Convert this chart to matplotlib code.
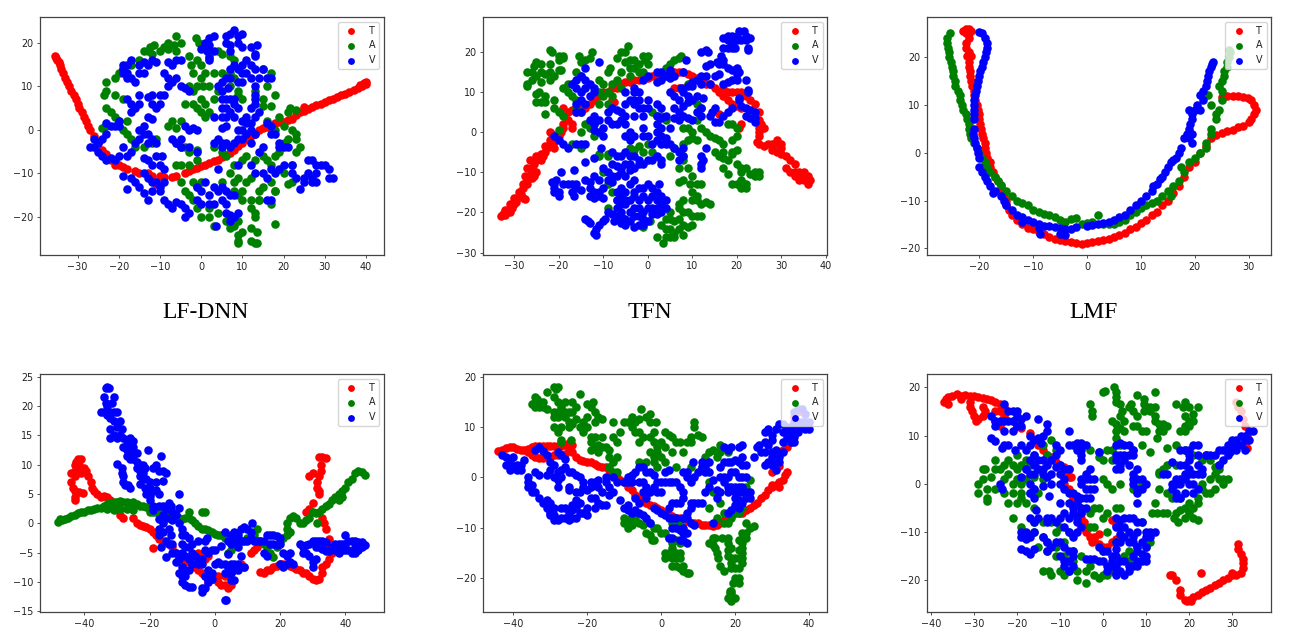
import matplotlib
matplotlib.use("Agg")
import matplotlib.pyplot as plt
import numpy as np

# points, (x, y)
t1 = [(-35.5,17),(-35.2,16.5),(-35,16),(-34.6,15.5),(-34.3,14.8),(-34,14),(-33.5,13),(-33,12),(-32.7,11),(-32.2,10),(-31.5,9),(-31,8),(-30.5,7),(-30,6),(-29.6,5),(-29,4),(-28.5,3),(-28,2),(-27.5,1),(-27,0),(-26,-1.5),(-25,-3),(-24,-4.5),(-23,-5.5),(-22,-7),(-21,-8),(-20,-8),(-19,-8.5),(-18,-9),(-16,-9.5),(-15,-9.8),(-13,-10),(-12,-10.5),(-11,-12.5),(-10,-10.5),(-9,-10.7),(-7,-10.7),(-6,-10.5),(-4,-10),(-3,-9.5),(-2,-9),(-1,-8.7),(0,-8.3),(1,-8),(2,-7.6),(3,-7.2),(4,-6.8),(5,-6.3),(6,-5.8),(7,-5.3),(8,-4.5),(9,-3.8),(10,-3),(11,-2),(12,-1.5),(13,-1),(14,0),(15,0.5),(16,0.7),(17,1),(18,1.5),(19,1.7),(20,1.8),(21,2.2),(22,2.5),(23,3.5),(24,4),(25,4.3),(25,5.3),(26,4.7),(27,5.2),(28,5.7),(29,6),(30,6.5),(31,6.8),(32,7),(33,7.5),(34,8),(35,8.3),(36,8.8),(37,9.2),(38,9.7),(39,10),(40,10.5),(39.5,10.8),(38.5,10.4),(40,11)]
a1 = [(-6,21.5),(-1.3,21),(-0.5,20),(1,19),(-8,20),(-6.5,19.5),(-5,20),(-9,19),(-12.5,19),(-11.5,19.5),(-10,18),(-13,18),(-14,18),(-12,17.5),(-8,18.5),(-6,18),(-3,17),(-1,16),(0,15),(2,17),(4,18),(5,17.5),(7,17),(8,16),(-2.5,15),(-2,13),(0,12),(1,13),(3,13),(5,13),(7,13),(8,12),(-3,10),(-2,9),(-1,10),(0.5,10),(2,10),(4,9),(7,10),(9,9),(-4,6),(-2,6),(0,7),(1,6),(-1,5),(0,4),(1,3),(2,4),(3,7),(9,8),(10,7),(13,9),(15,7),(15,5.5),(17,5.5),(18,8),(16,10),(17,13),(15,14),(-15,16),(-17,15),(-19,14),(-20,13),(-21,12),(-23,11),(-23,9),(-23.5,8),(-21,8),(-19,7),(-23,5),(-22,4),(-21,3),(-20,2),(-23,1),(-24,0.5),(-18,2),(-19,0),(-18,-1),(-17,-2),(-16,-4),(-14,-4),(-12,-3),(-11,-2),(-8,1),(-7,2),(-6,0.5),(-5,2),(-6,-3),(-5,-4),(-4,-4),(-3,-5),(-1,-4.5),(3,-4),(5,-5),(6,-6),(-6,-8),(-5,-8),(-3,-8),(-1,-7),(8,-8),(10,-7),(11,-6),(13,-7),(15,-6),(16,-7),(17,-8),(18,-6),(19,-5),(20,-3),(21,-2),(23,-2),(24,-4),(23,-5),(22,-8),(20,-10),(22,-12),(21,-12.5),(17,-12),(18,-14),(15,-13),(14,-14),(14,-16),(12,-11),(11,-12),(9,-11),(8,-12),(7,-10),(5,-12),(-5,-12),(-4,-14),(-3,-15),(-2,-12),(-1,-13),(0,-12),(-2,-16),(-1,-18),(0,-20),(2,-20),(2,-18),(4,-19),(8,-14),(9,-15),(10,-14),(10,-16),(12,-16),(14,-16),(12,-18),(13,-19),(13,-20),(6,-21),(7,-21.5),(8,-22),(9,-21),(7,-22.5),(3,-22),(9,-24),(10,-23.5),(12,-22.5),(13.5,-23.5),(9,-25.5),(9,-26),(12,-25.5),(13,-26),(13.5,-26),(18,-21.5),(17,-17),(18,-14),(18,0),(20,1),(21,4),(21.5,5),(23,4.5),(22,0),(23,-1),(19,3),(16,2)]
v1 = [(8,23),(7,22),(9,21.5),(10,22),(6,21.5),(3,21.5),(2,21),(6,20),(7,19.5),(9,20),(10,19),(12,19),(13.5,19.5),(1,20),(2,19.5),(0,18.5),(1.5,18),(3,18),(7,18),(13,17),(13,17.5),(2,16.5),(2,16),(-5,16),(-6,16),(-7,15),(-8,15.5),(-12,16),(-11,15.5),(-13,15),(-14,15.5),(-15,15),(-17,16),(-18,15),(-19,15),(-19,14),(-18,13),(-15,13),(-14,13),(-19,13),(-18,12),(-17,12),(-16,11),(-9,13),(-8,12),(-7,11),(-8,10),(-6,12),(-5,10),(-4,9.5),(-3,9),(7,14),(8,15),(9,14),(10,15),(11,16),(12,15),(13,14),(10,13),(11,13),(12,12),(14,12),(15,14),(16,12),(17,12),(7,12),(6,12),(5,11),(9,11),(10,11),(13,10),(4,10),(6.5,9.5),(13,8),(5,9),(5,7),(6,7),(7,7),(8,7),(8,6),(9,5),(5,5),(6,5),(7,4),(3,3),(5,3),(6,3),(8,3),(13,7),(13,6),(12,5),(11,3),(13,3),(14,4),(10,2),(11,1.5),(12,1.5),(5,0.5),(6,1),(9,0),(10,0),(11,-1),(12,0),(13,-1),(3,-3),(4,-2),(5,-3),(6,-3),(7,-4),(5,-4),(8,-3),(9,-2),(10,-2),(12,-3),(14,-5),(15,-4),(16,1.5),(17,1),(17,-1),(18,-1),(19,-3),(19,-4),(20,-4),(21,-4),(-20,1),(-21,1),(-22,1),(-23,1.5),(-20,2),(-17,4),(-16,5),(-15,6),(-17,6),(-18,7),(-15,8),(-13,7.5),(-12,8),(-10,8),(-9,8),(-12,6),(-11,5),(-10,6),(-13,3),(-12,2.5),(-14,1),(-15,0),(-14,-1),(-13,-1),(-12,-2),(-15,-2),(-13,-3),(-11,-3),(-7,-2),(-6,-3),(-5,-2),(-4,1),(-3,0),(-2,0.5),(-1,0),(-5,-4),(-3,-4),(-1,-5),(-26,-2),(-27,-4),(-26,-4),(-25,-5),(-25,-3),(-24,-2),(-23,-1),(-24,-6),(-23,-7),(-22,-6.5),(-21,-7),(-20,-6),(-18,-6),(-19,-4),(-17,-5),(-16,-3),(-14,-6.5),(-13,-7),(-11,-6),(-9.5,-6),(-12,-8),(-10,-8),(-9,-9),(-19,-10.5),(-17,-11),(-16,-12),(-15,-13),(-18,-13.5),(-14,-10),(-13,-11),(-12,-12),(-11,-12),(-10,-13),(-9,-12),(-12,-14),(-10,-14),(-14,-14.5),(-13,-16),(-9,-16),(-8,-17),(-7,-18),(-6,-16.5),(-5,-17),(-4,-18),(-3,-19),(-4,-20),(-1,-13),(0,-14),(1,-12),(2,-15),(3,-13),(4,-14),(5,-13),(6,-14),(7,-15),(-1,-16),(0,-17),(2,-17),(3,-17),(5,-16),(6,-17),(8,-15),(6,-19),(7,-19.5),(8,-20),(9,-19),(7,-21),(3.5,-22),(9,-8),(4,-9),(12,-8),(13,-10),(15,-10),(16,-11),(17,-9),(19,-9),(20,-8),(22,-8),(18,-10),(22,-10),(23,-11),(25,-11),(25,-12),(24,-13.5),(26,-7),(27,-7),(28,-8),(29,-8),(30,-8),(31,-9),(28,-10),(27,-11),(26,-10),(27,-12),(28,-12),(31,-11),(32,-11),(16,-16),(17,-16)]

t2 = [(-33,-21),(-32.5,-20.5),(-32,-20.7),(-31.5,-20),(-31,-20),(-32,-19.5),(-31,-19),(-30.5,-19),(-31,-18),(-30,-18),(-29.5,-17.5),(-30,-16.5),(-29,-16),(-28.5,-15.5),(-28,-16.5),(-27.5,-16.7),(-29,-15),(-28,-14),(-28,-13),(-27,-13),(-27,-12),(-26.5,-11),(-26,-11.5),(-27.5,-11),(-25.5,-11),(-26,-10),(-25,-10),(-27,-9),(-26,-9),(-25.5,-8),(-26.5,-7),(-25,-7),(-25,-6),(-24,-7),(-24,-5.5),(-23,-5),(-23.5,-6),(-22.5,-4),(-23,-3.5),(-22,-3),(-22,-2),(-21,-4),(-21,-2.5),(-20.5,-1),(-22,0),(-21.5,-0.5),(-20,-1),(-19.5,0),(-19,1),(-19,2),(-18,3),(-17,2),(-17,1),(-19,6),(-18,5),(-17,5.5),(-16,5),(-15,6),(-14.5,7),(-14,6),(-13,7),(-12,8),(-11,9),(-10,10),(-9,10),(-8,11),(-8,8),(-7.5,7.5),(-7,11),(-6,12),(-5,12.5),(-4,12.5),(-3,13),(-2,13),(-1,13.5),(0,13.5),(1,14),(2,14),(3,14.5),(4,15),(5,15),(6,15),(7,15),(8,15),(9,14.5),(10,14),(11,13.5),(12,13),(13,12),(14,12),(15,11),(16,10),(17,11),(18,10),(19,10),(20,10),(21,10),(22,9),(23,8),(24,7),(17,9),(18,8),(19,7),(20,6.5),(21,6),(16,4.5),(21,2),(20.5,1),(6,11),(7,11),(8,11),(25,5),(25,3),(25.5,2),(25,1),(26,1),(25,0),(25,-1),(24.5,-2.5),(25,-3),(26,-3.5),(27,-3),(28,-3),(28,-4.5),(29,-3),(29,-2),(30,-3),(30,-4),(29,-5),(30,-5.5),(31,-6),(32,-7),(33,-8),(31,-9),(32,-10),(33,-10),(33,-11),(34,-10),(34,-12),(35,-10),(35,-11),(36,-11),(35,-12),(36,-13),(36.5,-12)]
a2 = [(-22,20.5),(-21.5,20),(-20,19),(-19,18.5),(-20,18),(-19,19),(-25,17.5),(-25.5,16.5),(-24,17),(-22,17),(-27,15),(-26,15),(-25,14),(-24,15),(-23,14.5),(-22,15),(-20,15.5),(-19.5,15.5),(-21,14),(-22,13),(-24,12.5),(-26,13),(-27,12),(-27,11.5),(-24.5,10),(-25,9.5),(-23,9),(-21,8),(-25,7.5),(-24,7.5),(-23,7.5),(-23,4.5),(-21,6),(-20,5),(-19,4),(-19,11),(-18,12),(-17,12),(-18,10),(-17,9),(-16,8),(-16,6),(-15,5),(-20,0.5),(-15,17.5),(-14,18),(-15.5,19),(-13,18.5),(-12.5,20),(-15,14),(-16,15),(-7,18.5),(-6,20),(-5,20),(-4.5,21.5),(-5,17.5),(-4,18),(-3,18),(-4,16),(-3,16),(-2,17),(-2,15),(-1,15),(-4,14),(-6,15),(-8.5,16),(-9,15),(-7,13),(-8,12),(-11,13),(-10,12),(-11,10),(-10,9),(-9,10),(-8,9),(-6,11),(-11,7),(-9,7),(-14,2),(-13,1),(-15,0),(-12,2),(-12,-1),(-17,-3),(-15,-4),(-11,-6),(-9,-6),(-10,-10),(-9,-13),(-8,-15),(-7,-17),(-9,-19),(0,17),(-0.5,18),(-1,19),(0,19),(5,17),(6,18),(7,18.5),(7.5,19),(4,16),(9,12),(11,7),(12,6),(11,3),(12,1),(13,0),(14,-1),(15,-1.5),(16,-2),(17,-3),(17,-5),(19,-5),(15,-5),(16,-6),(17,-6.5),(18,-7),(17,-9),(18,-10.5),(19,-5.5),(20,-8),(21,-9),(22,-9),(21,-10),(23,-10.5),(24,-10),(25,-10),(25,-11),(24,-11),(20,-13),(19,-13),(21,-12),(22,-13),(21,-14),(22,-14),(8,-7),(9,-9),(10,-11),(8,-12),(7,-12.5),(9.5,-13),(11,-13),(12,-13),(10,-15),(11,-16),(10,-17),(11,-17),(12,-18),(13,-17.5),(14,-18),(8,-17),(7,-18),(8,-20),(9,-20),(10,-21),(11,-21),(12,-21),(7,-21.5),(6,-22),(5,-21.5),(4,-21.5),(3,-23),(4,-24),(5,-24),(6,-25),(7,-24),(8,-23),(9,-23.5),(10,-23),(4,-26),(5,-26),(6,-26),(2,-26),(3.5,-27.5),(8,-25.5),(-1,-23.5),(0.5,-22),(5,-20),(7,-19),(5,-6),(6,-4),(8,-3),(9,-2),(10,-1.5),(11,-2),(8,-6),(7,-9),(-4,-4),(-3,-4.5),(-2,-3.5),(-1,-5),(0,-3),(1,-5),(-9,-5.5),(-11,-5.5),(1,5),(2,4),(3,4),(4,3),(8,1),(9,1),(10,0),(18,2),(19,2),(20,1),(20,-1),(19,-2),(20,-4.5)]
v2 = [(21.5,25),(22,24),(20.5,25),(20,24),(19,24),(18,24),(17,23.5),(18,23),(19,22),(20,23),(21,23),(22,23),(23,23.5),(18,21),(17,21),(19,21),(19.5,21),(22.5,21),(22.5,20.5),(16.5,19),(17,18),(12,20),(13,20.5),(13.5,20),(15.5,17.5),(16,17),(17,17),(18,16),(19,15.5),(13,16.5),(14,17),(20,16),(20.5,15),(20,14.5),(19,13),(20,13),(22,13),(16,14.5),(15,14),(13,14),(12,14),(11,13),(10,12.5),(12,12),(14,12),(17,12),(18,12.5),(10,11.5),(22.5,10.5),(22.5,10),(20.5,8),(20.5,8.5),(21,6.5),(22,6),(23,5.5),(24,5),(24,3.5),(24,2.5),(23,3.5),(22,4),(19,6),(18,5),(17,4),(15,6),(14.5,5),(14,4),(15,2.5),(16,2.5),(12,6),(12,4),(11,5),(10,3),(9,3.5),(8,4),(7,5),(6,6),(8,6.5),(6,3.5),(7,3),(5,1),(4,4),(3,3.5),(2,4),(9,9),(8,10),(7,8),(9,7.5),(10,8),(11,9),(12.5,8.5),(7.5,11),(9,11.5),(5,10),(6,9),(0,14),(-1,13),(2,15),(3,15),(4,14),(5,15.5),(6,14),(5,13.5),(3,13),(2,12.5),(8,15),(8.5,18),(-11,17.5),(-14,16),(-15,14),(-14,13),(-13,12),(-16,13),(-17,12),(-16,11),(-15,10),(-14,11),(-12,11),(-12,10),(-13,9),(-15,8),(-14,7),(-16,7),(-16,5),(-15,5),(-3,11),(-2,10),(-3,10),(-5,10),(-3,8),(-2,8),(0,8),(-3,7),(-4,8),(-5,7),(-2,6),(-1,6),(0,6),(-8,6),(-7,5.5),(-9,5),(-6,5),(-5,4),(-3,4),(-1,4),(2,7),(3,6),(-9,3),(-11,3),(-12,4),(-13,3),(-12,2),(-6,3),(-5,2),(-7,2),(-8,2),(-10,1),(-11,0),(-12,0.5),(-10,-1),(-4,0),(-5,-1),(-4,-2),(-3,-1),(-1,1),(-1,-1),(0,-1),(2,2),(2,0),(3,1),(3,-1),(4,-1.5),(2,-2),(3,-3),(4,-3),(5,-3),(1,-3),(-15,-3),(-16,-3),(-14,-3),(-21,-1),(-20,-2),(-19,-3),(-18,-4),(-10.5,-4),(-12,-6.5),(-14,-7.5),(-8,-5),(-7,-6),(-6,-6),(-5,-5),(-4,-6),(-3,-6),(-2,-7),(-1,-8),(0,-7),(1,-7),(2,-6),(3,-7),(3,-8),(-8,-8),(-7,-8.5),(-6,-9),(-5,-8),(-4,-8),(-3,-9),(-2,-8),(-10,-9),(-9,-10),(-8,-11),(-7,-11),(-6,-10),(-5,-11),(-4,-9.5),(-9,-12),(-8,-12.5),(6,-4),(7,-5),(8,-4),(8,-6),(7,-7),(12,-6),(12.5,-7),(12,-8),(12,-9),(13,-4),(-19.5,-10),(-16.5,-9.5),(-12,-11),(-11,-12),(-21.5,-12.5),(-21,-13),(-20.5,-12),(-19,-13),(-18,-13),(-17,-13),(-16,-13),(-16,-14),(-17,-15),(-15,-14.5),(-14,-12),(-13,-12.5),(-13,-14),(-12,-15),(-11,-15),(-10,-14),(-21,-14),(-20,-15),(-20,-16),(-21,-15),(-16.5,-16),(-13,-16),(-12,-16.5),(-11,-16),(-10,-16.5),(-3,-12),(-2,-14),(-1,-14),(0,-13),(1,-14),(2,-15),(2.5,-13),(-6,-14),(-5,-15),(-4,-13),(-3,-15),(-7,-15),(-7,-17),(-6,-16),(-6,-18),(-5,-17),(-4,-17),(-3,-16),(-2,-17),(-1,-16),(0,-17),(1,-16),(2,-17),(3,-16),(3,-18),(4,-17),(4,-19),(-7,-19),(-6,-20),(-5,-18),(-4,-20),(-3,-19),(-2,-19),(-1,-20),(0,-19),(1,-19),(2,-19),(3,-20),(-9,-20),(-8,-20.5),(-7,-21),(-6,-21),(-5,-21.5),(-4,-22),(-3,-21),(-2,-21),(-1,-21.5),(-7.5,-22),(-6,-22.5),(-5,-23),(-3,-23.5),(-2,-23),(-1,-23),(-14,-21.5),(-13.5,-22),(-13,-22.5),(-12,-25),(-11.5,-24),(-11,-23),(-10,-22),(-9.5,-21.5),(-11.7,-25.5),(0,-22),(1,-20.5),(2,-20.5)]

t3 = [(-23,25.5),(-22.5,25.8),(-22,25.8),(-21.5,25.5),(-22.5,25),(-22,25),(-22,24),(-22.5,23),(-22.5,22),(-22,21),(-22.3,20.3),(-21.5,20.3),(-22,19),(-22,18),(-21.8,17),(-21.7,16),(-21.5,15),(-21.3,14),(-21,13),(-21,12),(-20.8,11),(-20.5,10),(-20.3,9),(-20,8),(-20,7),(-19.8,6),(-19.7,5),(-19.5,4),(-19.3,3),(-19,2),(-19,1),(-18.8,0),(-18.5,-1),(-18,-2),(-18,-3),(-17.5,-4),(-17,-5),(-16.5,-6),(-16,-7),(-16,-8),(-15.5,-9),(-15,-10),(-15,-11),(-14.5,-12),(-14,-13),(-13,-14),(-12,-15),(-11,-15.7),(-10,-16),(-9,-16.5),(-8,-17),(-7,-17.7),(-6,-18),(-5,-18.3),(-4,-18.5),(-3,-18.7),(-2,-18.8),(-1,-19),(0,-18.8),(1,-18.7),(2,-18.5),(3,-18.3),(4,-18),(5,-17.7),(6,-17.2),(7,-16.8),(8,-16),(9,-15.5),(10,-14.8),(11,-14),(12,-13),(13,-12.5),(14,-11),(15,-10),(16,-8.5),(17,-7),(18,-5),(19,-3),(20,-2),(21,0),(22,1.5),(23,3),(24,3.8),(25,4.2),(26,4.5),(27,4.8),(28,5.3),(29,5.6),(30,6.5),(30.5,7),(31,8),(31.3,9),(31,10),(30.5,11),(29.8,11.5),(29,11.7),(28,11.8),(27,11.8),(26,11.8),(25,11.7)]
a3 = [(-25.5,25),(-26,24),(-26,23),(-25.8,22),(-25.7,21),(-25.7,20),(-25.3,19),(-25,18),(-24.8,17),(-24.8,16),(-24.5,15),(-24.5,14),(-24,13),(-23.5,12),(-23.5,11),(-23.2,10),(-23,9),(-22.5,8),(-22.3,7),(-22,6),(-22,5),(-21.7,4),(-21.5,3),(-21,2),(-20.5,1),(-20,0),(-19.5,-1),(-19,-2),(-18.5,-3),(-18,-4),(-17,-5),(-16.5,-6),(-16,-6.8),(-15,-8),(-14,-9),(-13,-10),(-12,-10.5),(-11,-11),(-10,-12),(-9,-12.5),(-8,-12.8),(-7,-13),(-6,-13.5),(-5,-14),(-4,-14.5),(-3,-13.8),(-2,-13.7),(-1,-15),(0,-14.8),(1,-14.5),(2,-13),(3,-15),(4,-15),(5,-15),(6,-14.5),(7,-14),(8,-13),(9,-12.5),(10,-11.5),(11,-11),(12,-10.5),(13,-10),(14,-9),(15,-8),(15.5,-9),(16,-7),(17,-6),(17.5,-3),(18,-4),(19,-2),(20,-1),(21,0),(22,1),(22,2),(23,4),(23,5),(24,7),(24,8),(24.5,9),(23,10),(22.5,12),(25,11),(25,13),(24.5,14),(25,15),(25.5,16),(25.5,17),(26,18),(26,19),(26.3,20),(26.5,21),(26.3,21.5)]
v3 = [(-20,25.3),(-19.5,25),(-19,24),(-18.5,23),(-18.5,22),(-18.8,21),(-19,20),(-19.3,19),(-19.5,18),(-19.8,17),(-20,16),(-20.2,15),(-20.5,14),(-20.7,13),(-20.8,12),(-21,11),(-21,10),(-21,9),(-21,8),(-21,7),(-21,5),(-21.2,4),(-21,3),(-20.8,2),(-20.5,1),(-20.3,0),(-20,-1),(-20,-3),(-19.5,-4),(-19,-5),(-18.5,-6),(-18,-7),(-17.5,-8.5),(-17,-8),(-16,-9),(-15.5,-10),(-15,-11),(-14,-12),(-13,-13),(-12,-13.5),(-12,-14.5),(-11,-14),(-10,-14.5),(-9,-15),(-8,-15.3),(-7,-15.3),(-6,-15.5),(-5,-15.8),(-4,-16),(-3,-16),(-2,-15.5),(-9,-15.7),(-8.7,-17),(-5,-17),(-4,-17.2),(0,-15.3),(1,-15.2),(2,-15),(3,-14.8),(4,-14.5),(5,-14),(6,-13.5),(7,-13),(8,-12),(9,-11),(10,-10),(11,-9),(12,-8),(12.3,-7),(13,-6.5),(13.5,-5.5),(14,-5),(14.5,-4),(15,-3),(15.5,-2),(16,-1.5),(16.5,-1),(17,0),(17.5,1),(18,3),(18.5,4),(19,5),(19.5,4),(19,3),(19.5,2),(19.2,6),(19.5,7),(19.5,8),(19,9),(20,9),(20.5,10),(21,9),(21.5,11),(21,12),(21.5,13),(22,14),(22.2,15),(22.5,16),(22.7,17),(23,18),(23.2,18.5),(23.4,19)]

t4 = [(-42,11),(-42.5,10.5),(-43,10),(-41,11),(-41.5,10),(-43,9),(-44,8.5),(-43,8),(-42,9),(-41,8.5),(-40,9.5),(-39.5,9),(-39,8),(-38,7),(-37.5,6),(-37,5.5),(-36,5),(-35,4.5),(-34,4.7),(-33,4.5),(-32,4),(-44,7),(-43.5,6),(-43,5.5),(-43,4.5),(-43,4),(-41.5,5.3),(-40.5,5.2),(-31,3),(-30,2.5),(-29,1.5),(-28,1),(-25,1),(-24,0),(-23,-0.3),(-22,-0.5),(-21,-0.7),(-20,-1),(-19,-1.5),(-18,-2),(-17,-2.7),(-16,-3),(-15,-3.2),(-14,-3.5),(-13,-4),(-12,-5),(-11,-5.5),(-10,-6),(-9,-6.5),(-8,-6.5),(-7,-7),(-6,-7.5),(-5,-8),(-4,-8.5),(-3,-9),(-2,-10),(-1,-9.5),(0,-9.5),(1,-10),(2,-10.5),(3,-10.5),(4,-11),(5,-10.5),(1,-9),(3,-9),(-19,-4.2),(-5,-5),(-4,-5.5),(-3,-6),(-2,-5.5),(8,-7),(9,-7.5),(11,-5),(12,-4.5),(13,-4),(14,-8.3),(15,-8.5),(16,-8),(17,-8),(18,-7.5),(19,-7.2),(20,-7),(21,-7),(22,-7),(23,-7.2),(24,-7.5),(25,-7.7),(26,-8),(27,-8.5),(28,-8.5),(29,-9),(30,-9.5),(31,-9.7),(32,-9.5),(33,-8.5),(33,-7.5),(34,-7),(35,-6),(36,-5),(35,-4),(35,-2.7),(34,-1),(33.5,0),(33,1),(32,11.3),(33,11.3),(34,11.2),(32.5,10),(32.5,9),(32,8),(31.5,7),(31.5,6),(32,5.5),(32,5),(29,8),(30,8.5),(30,3.5),(29,2.5),(28,2)]
a4 = [(-48,0.3),(-47.5,0.7),(-47,0.6),(-46,0.8),(-45,1),(-44,1.2),(-43,1.4),(-42,1.7),(-41,1.9),(-40,2),(-39,2.2),(-38,2.3),(-37,2.5),(-36,2.7),(-35,2.7),(-34,3),(-33,3.3),(-32,3.5),(-31,3.6),(-30,3.7),(-29,3.8),(-28,3.7),(-27,3.7),(-26,3.5),(-25,3.6),(-24,3.3),(-33,2.5),(-31,2.3),(-29,2.5),(-27,2.5),(-25,2.3),(-23,3),(-22,3),(-21,2.8),(-20,2),(-19,2),(-18,2),(-17,2),(-16,2.5),(-15,1.5),(-14,1),(-13,1),(-12,1.5),(-11,1),(-10,0.7),(-9,1),(-8,2),(-8,1),(-4,2),(-3,2),(-7,0.5),(-6,0),(-5,-0.5),(-4,-1),(-3,-1),(-2,-1.2),(-1,-1.5),(0,-1.8),(1,-2),(2,-2),(3,-2.5),(4,-5),(5,-4.5),(6,-3.5),(8,-3),(10,-2.5),(12,-2),(13,-1),(14,-3),(15,-3.5),(16,-4),(17,-5),(18,-5.7),(19,-4),(20,-3),(21,-2.5),(22,-2),(23,-1.5),(22,-1),(22,0),(23,1),(24,1.3),(25,1),(26,0),(27,0),(28,0.5),(29,1),(31.5,0),(30,2),(31,1.7),(32,2),(33,2.5),(34,3),(35,3.3),(36,4),(37,4.5),(38,5),(39,5.5),(39,4.5),(40,6),(41,7),(42,7.5),(43,8.5),(44,9),(45,8.8),(46,8.3),(38,4)]
v4 = [(-33.5,23),(-33,23.2),(-32.5,23),(-34,21.5),(-33.5,20.5),(-31,21.5),(-31.5,20.5),(-33,20),(-35,19),(-34,19),(-33,18.5),(-32,19),(-31,19),(-30,19),(-32,18),(-31,17.5),(-30,16.5),(-29,17.5),(-28.5,16),(-32,16),(-31,15),(-32,14.5),(-30,14.5),(-29,15),(-28,14.5),(-27,14),(-26,14.5),(-25,14),(-28,13),(-27,12.5),(-26,13),(-25,13),(-24,12),(-27,11.5),(-26,11),(-25,12),(-25,11),(-20.5,12.5),(-16.5,11.5),(-30,10.2),(-28.5,9.5),(-28.5,8.5),(-28,8),(-28,7),(-27.5,6.5),(-26.5,6.5),(-26,6),(-24,10.5),(-23,10),(-22,10),(-21.5,9.5),(-24,9.5),(-23,9),(-22,8.5),(-19,9.5),(-18,10),(-17,9),(-16,9),(-15,8.5),(-23,8),(-22,7.5),(-21,7.5),(-23,6.7),(-21.5,6),(-20,7),(-18,7),(-16,7.2),(-20,6),(-19,5.5),(-18,5.7),(-21,5),(-20,4.7),(-17,5),(-20,4),(-11,5),(-19,3),(-19,2.3),(-17,3),(-16,3),(-15,2.5),(-14,3.5),(-13.5,3),(-13,2),(-11,2.7),(-12,1.5),(-16,1.5),(-17,0.8),(-16,0),(-15,1),(-13,0.5),(-11,0),(-17,-1),(-16,-1.5),(-14,-1),(-13.5,-2),(-17,-2),(-15,-3),(-14,-3.5),(-13,-3.5),(-16.5,-4),(-15,-5.7),(-13,-5),(-12,-5),(-11,-6),(-12,-6.5),(-10,-1),(-10,-2),(-9,-2),(-8,-2.5),(-7,-3.5),(-10,-3.5),(-9,-4),(-8,-4),(-5,-3),(-3,-3),(-2.5,-2.5),(-10,-5),(-9,-5.5),(-8,-6),(-7,-5),(-6,-5.5),(-5,-6),(-4,-6),(-3,-4.5),(-2,-5),(-1,-4.5),(0,-4.5),(-7,-7),(-5,-7),(-4,-7),(-10,-7.5),(-9,-8),(-8,-8),(-11,-8.5),(-10,-9),(-9,-9),(-10,-10),(-9,-10.5),(-8,-10.8),(-7,-10.8),(-4,-11),(-4,-11.7),(-3,-11),(-3,-9),(-2,-9.5),(-2,-8),(-1,-8.5),(-1,-9.5),(-2,-10),(0,-7),(1,-6.5),(2,-7),(3,-7),(4,-7.5),(5,-7),(6,-7),(7,-7),(3,-8.5),(4,-8.5),(5,-8.5),(6,-8),(7,-8),(5,-9.7),(6,-9.7),(3,-13),(3.5,-13),(2,-3.8),(3,-1.5),(4,-3),(4,-5.2),(5,-2),(6,-1.5),(7,-2),(8,-1),(9,-0.7),(10,-1),(11,-1.5),(11.5,0),(5,-3.5),(6,-3),(7,-4),(8,-5.5),(8,-3),(9,-3),(10,-3),(11,-2.5),(12,-3),(13,-3),(14,-3),(15,-3),(16,-2),(17,-2),(18,-2),(19,-2.2),(20,-2.5),(15,-5),(16,-5.5),(17,-3.5),(18,-3.5),(19,-3.7),(20,-3.5),(9,-7.5),(21,-5),(22,-5.5),(23,-5),(20,-7),(21,-7.5),(22,-7),(23,-6.5),(24,-7),(26,-3.5),(27,-4),(28,-3.7),(29,-3.5),(30,-3),(31,-3),(32,-3),(33,-3),(34,-3.2),(31,-4),(32,-4),(33,-4.3),(34,-4.7),(35,-4.7),(27,-5),(28,-5),(29,-5.5),(30,-6.5),(31,-6),(30,-7.5),(36,-4),(37,-3.5),(38,-3.5),(39,-3.5),(40,-3.5),(41,-3),(42,-3),(43,-3),(44,-3.2),(45,-3.2),(46,-3.7),(45,-4),(40,-2),(37,-4.5),(38,-5),(39,-4.5),(40,-4.5),(41,-4.5),(42,-5),(43,-5),(43,-4),(44,-4.5)]

t5 = [(-44,5.2),(-43,5.5),(-42,5.8),(-41,6),(-40,6),(-39,5.7),(-38,5.5),(-37,5.5),(-36,5.7),(-35,6),(-34,6.2),(-33,6.3),(-32,6.2),(-31,6.2),(-30,6.3),(-29,6.3),(-28,6.2),(-27,6.3),(-26,6.5),(-25,6.8),(-24,6.5),(-36,5),(-35,4.5),(-34,4),(-33,3.8),(-32,3.8),(-31,4),(-30,4),(-29,4.5),(-28,4.5),(-26,4.7),(-25,5.5),(-24,5),(-23,4),(-22,3.5),(-21,3.3),(-20,3),(-19,3),(-18,2.7),(-17,2.3),(-16,2),(-15,2),(-14,1.5),(-13,0.7),(-12,0),(-11,-0.5),(-10,-1),(-9,-2),(-8,-2.5),(-7,-3.5),(-6,-4),(-5,-4.5),(-4,-5),(-3,-5.5),(-2,-5.7),(-1,-6),(0,-6.5),(1,-7),(2,-7.5),(3,-7.7),(4,-8),(5,-8),(6,-8.5),(7,-8.7),(8,-9),(9,-9),(10,-9),(11,-9.5),(12,-9.5),(13,-9.5),(14,-9.7),(15,-9.5),(16,-9),(17,-8.5),(18,-8),(19,-7.5),(20,-7),(21,-7),(22,-7),(23,-6.5),(24,-6),(25,-5.5),(26,-5),(27,-4),(28,-3.5),(29,-2.5),(30,-2),(31,-1.5),(32,-1),(33,-0.5),(33.5,0.5),(34,1),(30,1),(31,2),(32,2.2),(32,-2),(30,-1.5),(33,5.5),(34,6),(35,7),(35,9),(36,12),(37,13),(35,10)]
a5 = [(-29,18),(-28,18),(-28.5,17.5),(-31,17),(-22,16.5),(-34,16),(-33.5,15.5),(-35,14.5),(-34,15),(-33,15),(-32,15),(-34,14),(-33,14),(-32,14),(-31,13.5),(-29,16),(-28,15),(-27,14),(-26,15),(-24,15),(-29,13),(-28,13),(-27,13),(-26,13),(-25,13),(-24,13),(-23,14),(-20,14.5),(-18.5,15),(-19,14),(-18,13),(-29,12),(-28,12),(-26,12),(-25,11),(-23,11.5),(-21,11),(-20,12),(-17,12),(-18,11),(-16,11.5),(-13,11),(-29,10),(-28,9),(-27,10),(-25,10),(-24,10.5),(-22,10),(-21,9),(-20,10),(-19,8),(-18,8),(-16,8),(-27,7.5),(-27,7),(-24.5,7.5),(-19,7),(-18,6),(-17,6.5),(-16,6),(-15,6),(-14,5.5),(-19,5.5),(-17,5),(-12,7),(-13,8),(-11,9),(-10,11),(-9,11),(-8,12),(-7,11),(-6,11.5),(-5.5,13.5),(-3,12.5),(-4,12),(-3,11),(-1.5,11),(-8,10),(-7,9),(-6,9),(-6,7),(-5,8),(-3,8),(-2,9),(1,9),(2,8.5),(0,7),(-2,7),(-1,6),(-3,5),(1,6),(3,8),(4,7),(5,7),(7,7),(8,7),(8,8),(9,10),(9,11),(10,8.5),(11,8),(-14,4),(-13,3),(-12,4),(-14,2),(-13,1),(-12,1),(-6,3),(-4,3),(-2,4),(-1,5),(0,4),(-2,3),(-1,2),(1,3),(3,5),(4,2),(6,5),(8,2),(12,4),(13,5),(14,5.5),(15,5),(16,6.5),(16,5),(15,4),(18,5),(11,2),(13,-1),(14,-3),(15,-3),(16,-5),(17,-7),(15,-8),(13,-6),(24,-0.5),(23,-2),(22,-6),(21,-7),(20,-7),(19,-8),(18,-9),(17,-9),(-10,-8),(-9,-8.5),(-10,-9),(-9,-10),(-8,-7.5),(-7,-7.5),(-8,-9.5),(-7,-8),(-6,-9),(-5,-9.5),(-3,-9),(-4,-11),(-3,-11.5),(-2,-10),(-1,-10),(-2,-12.5),(-2.5,-12.5),(0,-11),(1,-11),(2,-12),(3,-9),(4,-9),(5,-9),(3,-13),(4,-12.5),(5,-13),(1,-15),(2,-15),(3,-14),(4,-15),(1,-16),(3,-16),(4,-16),(5,-15),(3,-17.5),(4,-17.5),(5,-18),(5,-16),(6,-17.5),(6,-18.5),(7,-19),(7.5,-19),(13,-13),(14,-12),(14.5,-12),(14,-13.5),(14.5,-14),(15,-15),(15.5,-16),(16,-17.5),(16.5,-12),(18,-12),(18,-13),(18,-14.5),(19,-14),(21,-12.5),(22,-11),(23,-11),(22,-13),(23,-12),(24,-10),(25,-9.7),(23,-9),(22,-14),(21,-14.5),(22,-15),(18,-15.5),(19,-16),(20,-16),(21,-16),(22,-16),(19,-17),(20,-18),(21,-18),(22,-17),(17,-18.5),(19,-18),(20,-20),(21,-20),(21,-21),(19.5,-21),(19,-22.5),(18.5,-23),(19,-23),(18,-24),(19,-24.5),(18.5,-22.5),(20,-24)]
v5 = [(-43,4.5),(-42,4),(-41,3),(-42,2.5),(-41,1.5),(-40,2),(-39,1.5),(-38,2.5),(-37,3.5),(-40,4),(-39,2.5),(-38,1.5),(-34,5.5),(-33,6),(-32,5.3),(-31,4.5),(-28,5),(-27,4.5),(-26,3.7),(-30,3),(-29,2.5),(-30,1.5),(-27,1.5),(-26,2),(-28,1),(-25,1),(-24,1),(-34,1),(-33,0.5),(-31,0.5),(-29,0),(-28,-0.5),(-27,0),(-23,0.5),(-22,0),(-21,-1),(-36,0),(-36,-1),(-35,-1.5),(-36,-2),(-35,-3),(-34,-3),(-28,-2),(-25,-2),(-25,-2.5),(-21,-2),(-20,-2.5),(-22,-3),(-23,-3),(-19,-1),(-33,-4),(-32,-5),(-31,-4.5),(-30,-5),(-23,-4.5),(-22,-5),(-19,-4),(-18,-4),(-17,-5),(-31,-6),(-30,-7),(-29,-6),(-24,-5.5),(-23,-6),(-20,-6),(-18,-6),(-16,-5.5),(-15,-5.5),(-30,-7.5),(-29,-7.5),(-27,-6),(-26,-6),(-25,-7),(-24,-6.5),(-22,-7),(-21,-7),(-20,-7.5),(-29,-8.5),(-28,-8.5),(-27,-8),(-26,-8),(-25,-8.5),(-24,-8),(-23,-8),(-19,-2),(-18,-1),(-17,-2),(-16,-3),(-15,-1),(-14,-2),(-13,-3),(-17,-0.5),(-15,0),(-13,0),(-12,-1),(-14,-3.5),(-11,-4.5),(-10,-1),(-9,-1),(-8,-1),(-9,0),(-8,0.5),(-7,1),(-6,2),(-5,2),(-4,1),(-3,1),(-10,-6),(-9,-6.5),(-8,-7),(-9,-5.5),(-7,-6.5),(-6,-7),(-5,-7.5),(-4,-8),(-3,-9),(-7,-4),(-6,-5),(-5,-3),(-4,-4),(-6,-1),(-5,-1),(-4,-2),(-3,-3),(-2,-2),(-2,0.5),(-1,-3),(0,-3),(1,1),(2,1.5),(1,-1),(2,-1),(3,-1),(4,-1),(5,-2),(6,-3),(0,-1),(-1,-1),(2,-6),(3,-5),(4,-5),(5,-5),(6,-4),(-2,-6),(-1,-6.5),(0,-7),(1,-7.5),(2,-8),(3,-8),(4,-8),(6,-8),(7,-8),(8,-9),(9,-9.5),(3,-10),(4,-10),(5,-10.5),(6,-10),(6,-11),(2,-12),(3,-12),(6,-12.5),(7,-13),(5,-12.5),(7,-11),(8,-5),(9,-5),(10,-5),(7,-7),(8,-6),(8,-1),(9,0),(7,1),(6,1),(7,0),(8.5,3),(10,1),(11,2),(12,2),(13,1),(12,1),(11,3),(13,3),(14,-0.5),(13,-2),(12,-3),(11,-5),(15,-4),(15,-2.5),(16,-3),(14,-9),(16,2),(17,3),(18,3),(19,3),(20,3.5),(21,3),(22,2.5),(22,4),(17,6),(18,5.5),(19,6),(21,6),(22,6.5),(16,0),(17,0),(18,0),(19,1),(20,1),(21,0),(22,0),(23,0),(17,-1),(18,-2),(19,-2),(20,-2),(21,-2),(22,-2),(18,-3),(20,-3),(21,-3),(22,-3),(23,-3),(24,-3),(20,-4),(21,-4.5),(22,-5),(23,-4),(24,-4),(21,-6),(20,-5.5),(18,-7),(19,-6.5),(23,2.5),(25,4),(26,6),(26.5,6.5),(28,7),(29,6.5),(28,9),(29,9.5),(30,8.5),(31,9.5),(30,7.5),(27,5),(28,5),(30,5),(31,5.5),(33,5),(32,4),(31,3),(30,2.5),(31,1.5),(28,2.5),(29,3),(30,4),(32,3),(32,10.5),(33,10.5),(34,10),(33,9),(34,9),(35,8),(36,8),(33,7),(35,7),(36,7),(34,8),(35,10),(36,11),(37,11),(38,11),(39,11),(40,11),(36,13),(37,13.5),(38,13.5),(39,12.5),(37,10),(38,10),(39,9.5),(40,9.5),(36,9),(37,9)]

t6 = [(-37,17),(-36.5,17.5),(-36,16.5),(-36,18),(-35,18.3),(-34,18.7),(-33,18.3),(-32,18.4),(-31,18.3),(-30,18.2),(-29,18),(-28,17.8),(-27,17.5),(-26,17.3),(-25,17),(-24,16.5),(-23,16),(-33,17.5),(-31,17),(-31,16),(-30.5,15),(-30,14),(-29.5,13),(-29,13.5),(-28,14),(-27.5,15),(-28,16),(-25,15),(-24,15),(-23,14),(-25,13),(-24,12),(-21,13),(-20,12),(-19,11.5),(-17,10.5),(-16,9),(-15,8),(-14,7),(-13,6),(-12,5.5),(-11,4.5),(-10,4),(-9,3.5),(-8,3),(-9,2),(-8,1.5),(-7.5,1.5),(-9,0),(-8,-1),(-7,-3),(-7,-4),(-6,-5),(-5,-6),(-5,-7),(-4.5,-8),(-4,-9),(-4,-10),(-3,-11),(-2.5,-12),(-2,-11),(-1,-10.5),(-2,-11.5),(-1,-12.5),(0,-13),(1,-13),(2,-12),(3,-11.5),(2,-7.5),(3,-8.5),(31,17),(31.5,16),(32,15),(32.5,13.5),(33,12),(33.5,10),(33.5,9),(33,8),(33.5,7.5),(31.5,-12.5),(31.5,-13.5),(32,-14.5),(32.5,-15.5),(32.5,-16.5),(32.5,-17.5),(32,-18.5),(31,-19),(30,-19),(30,-18.5),(29,-19.5),(28,-20),(27,-20.5),(26,-21),(25,-21.5),(24,-22),(23,-22.5),(22,-23),(21,-23.5),(20,-24),(19,-24),(18,-23),(18,-22),(16,-19),(17,-20),(15.5,-19),(22.8,-18.5),(20.5,-24.2),(19.5,-24.2)]
a6 = [(2.5,20),(0,19),(0.5,19.2),(3,19),(8,18.5),(12,19),(3,18),(3,17),(4,16.5),(6.5,16.5),(6,16),(9.5,17.5),(9.5,16.5),(-3,16.5),(-2.5,15),(-2.5,14),(4.5,15),(4,14),(7,15),(8,14),(9.5,15),(11,16),(12,16),(11,15),(12,14),(17,16.5),(18.5,16),(19,17),(20,16),(22,16),(21,14.5),(19,14),(20,13),(21,13),(2,13),(3,12.5),(5,13),(7,12),(8,12),(12,13),(13,12.5),(14,12.5),(15,12),(19,12),(20,12),(18,11),(19,11),(3,11),(4,11.5),(5,11),(9,11),(10,11),(13,11),(14,11),(12.5,9.5),(3,9.5),(-3,7),(-1,6.5),(1,7),(2,7),(-1,5.5),(0,5),(2,5),(4,8),(7,7),(9,8),(11,6.5),(15,7.5),(-12,9),(-14,8),(-11,7),(-13,6),(-16,6),(-18,5),(-20,6),(-22,5),(-25,5),(-23,4),(-24,3),(-25,3),(-28,3),(-27.5,3),(-26,1.5),(-21,4),(-19,4),(-17,4),(-22,2),(-20,3),(-18,3),(-15,3),(-23,1),(-20,1),(-18,1),(-16,1.5),(-14,1),(-29,0),(-28,1),(-27,-1),(-25,-1),(-21,0),(-19,0),(-16,-1),(-29,-2),(-27,-3),(-23,-2),(-21,-2),(-19,-2),(-17,-2),(-15,-2),(-27,-3.5),(-22,-4),(-20,-4),(-19,-3),(-18,-4),(-16,-5),(-21,-7),(-19,-9),(-16,-8),(-14,-8),(-12,-8),(-10,-9),(-16,-10),(-14,-11),(-13,-12),(-11,-10),(-8,-10),(-15,-13),(-13,-14),(-11,-13),(-9,-12),(-7,-14),(-11,-15),(-9,-15),(-7,-16),(-5,-15),(-14,-18),(-12.5,-18),(-12,-19),(-10,-18),(-9,-19),(-8,-18),(-6,-18),(-4,-18),(-3,-17),(-6,-20),(-4,-20.5),(-2,-19),(-1,-19.5),(0,-19),(1,-19),(2,-18),(0,-14),(1,-10),(3,-12),(5,-15),(6,-14),(6,-16),(8,-13),(10,-13),(11,-12),(9,-8),(4,-5),(3,-5),(1,-6),(0,-7),(-1,-5),(-2,-5),(-3,-6),(-5,-5),(-2,-9),(-3,-9),(0,1),(1,0),(2,-1),(4,0),(7,-1),(9,0),(13,2),(13,-1),(12,-4),(11.5,-6),(12.5,-6),(14,-6),(15,-6),(15,-2),(16,-3),(18,-3),(16.5,-7),(17,-6),(18,-5.5),(19,-5),(20,-6),(21,-7),(22,-7.5),(17.5,-8),(19,-7),(22,-4),(21,-5),(20,-4),(22,-3),(23,-1),(24,-2),(25,-2),(26,-1),(23,0),(25,1),(27,1),(28,1),(26,2),(27,3),(29,1),(28,0),(26,3.5),(27,4),(23,5),(25,5),(19,7),(21,6),(17,8),(15,4),(14,3),(17,4),(13,2.5)]
v6 = [(-23,16.5),(-22,15),(-21,15),(-20,15),(-20,14),(-19,13.5),(-18,14),(-26,14),(-25,13),(-24,13),(-23,13),(-22,13),(-21,13),(-20,12),(-19,12),(-25,12),(-23,11),(-21,11),(-17,10),(-15,13.5),(-13,12.5),(-13,11),(-14,10),(-15,9.5),(-16,9),(-17,8),(-14.5,8.5),(-8,11),(-26,9.5),(-25,8.8),(-23.5,7.5),(-23,8),(-22,8),(-20.5,7),(-19,8),(-18,7),(-11,8),(-10,7),(-8,8),(-7,8),(-6,8.5),(-5,8.5),(-6,7),(-5,7),(-4,8),(-5,6),(-5,5),(-16,6),(-15,5),(-14,5),(-13,4),(-12,5),(-11,6),(-17,5),(-16,4),(-15,3),(-14,3),(-11,3.5),(-10,4),(-9,3),(-8,3),(-18,3),(-17,2),(-16,2),(-14,2),(-13,1.5),(-12,2),(-10,2),(-9,1),(-19,1.5),(-3,3),(-4,2),(-5,1),(-4,1),(-3,1),(-2,1),(-17,0),(-16,-1),(-14,-0.5),(-12,0),(-10,0),(-9,-1),(-24,0),(-23.5,-1),(-5,0),(-4,-1),(-3,-1),(-2,-1),(-17,-2),(-16,-3),(-12.5,-2.5),(-10,-4),(-8,-2),(-7,-2),(-6,-2.5),(-5,-3),(-4,-3),(-3,-3),(-6,-4),(-5,-5),(-8,-4),(-7,-5),(-15.5,-5.5),(-4,-5),(-17,-7),(-15,-7),(-13,-7),(-12,-7),(-10,-7),(-9,-6),(-8,-7),(-7,-6),(-6,-7),(-5,-6),(-16,-8),(-13,-8),(-11,-8),(-9,-9),(-6,-8),(-5,-9),(-8,-10),(-7,-11),(-6,-10),(-19,-10),(-18,-10),(-17,-11),(-16,-10),(-19,-11),(-18,-11.5),(-14,-11),(-13,-12),(-12,-13),(-11,-12),(-10,-12),(-9,-13),(-8,-14),(-7,-14),(-19,-13.5),(-18,-14),(-17,-14.5),(-16,-13.5),(-13,-14),(-10,-15),(-9,-16),(-8,-16),(-7,-15),(-4,-15.5),(-3,-15.5),(-2,-15.5),(-9,-17),(-8,-18),(-7,-17),(3,-7),(4,-7.5),(5,-7),(6,-7),(7,-7),(8,-8),(9,-8),(3,-9),(4,-9),(5,-9),(6,-10),(8,-10),(10,-10),(11,-10),(12,-10),(4,-10.5),(5,-11),(7,-11),(10,-11),(11,-11),(3,-12),(4,-12),(6,-12),(7,-12),(9,-12),(-1,-13),(0,-14),(1,-14),(3,-13.5),(8,-13),(10,-13),(2,-15),(3,-15),(7,-15),(8,-14),(9,-14.5),(10,-15),(-1,-16),(0,-16),(2,-16),(3,-17),(4,-16),(5,-16),(6,-17),(8,-16),(9,-16),(10,-16),(1,-17),(2,-17),(7,-17),(8,-17),(3,-19),(4,-18),(5,-19),(6,-18),(1,-18),(3,-18.5),(-1,6.5),(3,8),(4,8.5),(5,8),(6,8),(7,7),(3,6),(4,6),(5,6),(6,6),(7,6),(3,5),(5,5),(6,4),(4,4),(3,3),(4,3),(7,2),(8,3),(7,1),(8,1),(9,1),(8,-1),(9,-1),(10,0),(7,0),(8,-2),(8,-4),(14,2),(15,2),(16,4.5),(18,7),(19,7),(20,7),(21,8),(22,8),(20,6),(20,5),(22,6),(24,6),(25,6),(26,6),(27,7),(28,7),(18,4),(19,4),(20,3),(22,4),(23,3),(24,6),(28,5),(29,6),(29.5,6.5),(27,4),(16,0),(17,1),(18,1),(19,2),(20,2),(21,2),(22,2),(23,2),(17,0),(18,0),(19,1),(20,0),(21,0),(22,-1),(16,-1),(17,-2),(18,-3),(19,-2),(17,-3),(21,-2),(29,8),(30,9),(31,9),(30,8),(31,8),(32,8),(33,9),(34,9),(32,10),(33,10),(34,11),(35,11),(33,7),(31,7)]

series = [(t1, a1, v1), (t2, a2, v2), (t3, a3, v3), (t4, a4, v4), (t5, a5, v5), (t6, a6, v6)]
captions = ["LF-DNN", "TFN", "LMF"]
caption_x = [206, 650, 1094]

# axes box in pixels: left, top, right, bottom
boxes = [(40, 17, 384, 255), (483.3, 17, 827.3, 254.5), (927.3, 17, 1271.3, 255),
         (40, 374, 384, 612), (483.3, 374, 827.3, 612), (927.3, 374, 1271.3, 612)]
xlims = [(-39.15, 44.4), (-36.9, 40.3), (-29.65, 34.2), (-53.6, 51.9), (-48.1, 44.95), (-40.86, 39.14)]
ylims = [(-28.7, 25.9), (-30.45, 28.6), (-21.4, 28.4), (-15.1, 25.45), (-26.7, 20.5), (-26.57, 22.76)]

W, H = 1290, 644
fig = plt.figure(figsize=(W / 100, H / 100), dpi=100)

for i in range(6):
    l, t, r, b = boxes[i]
    ax = fig.add_axes([l / W, 1 - b / H, (r - l) / W, (b - t) / H])
    for pts, c, name in zip(series[i], ["red", "green", "blue"], ["T", "A", "V"]):
        p = np.array(pts)
        ax.scatter(p[:, 0], p[:, 1], s=38, c=c, label=name, linewidths=0)
    ax.set_xlim(xlims[i])
    ax.set_ylim(ylims[i])
    ax.tick_params(labelsize=6.9, length=2.4, width=0.6, pad=2.4, color="#333333", labelcolor="#222222")
    for s in ax.spines.values():
        s.set_linewidth(0.9)
        s.set_color("#444444")
    ax.legend(loc="upper right", fontsize=6.9, labelcolor="#222222", markerscale=0.8)

for name, x in zip(captions, caption_x):
    fig.text(x / W, 1 - 312 / H, name, ha="center", va="center", family="Liberation Serif", fontsize=17, color="black")

fig.savefig("out.png", dpi=100)
